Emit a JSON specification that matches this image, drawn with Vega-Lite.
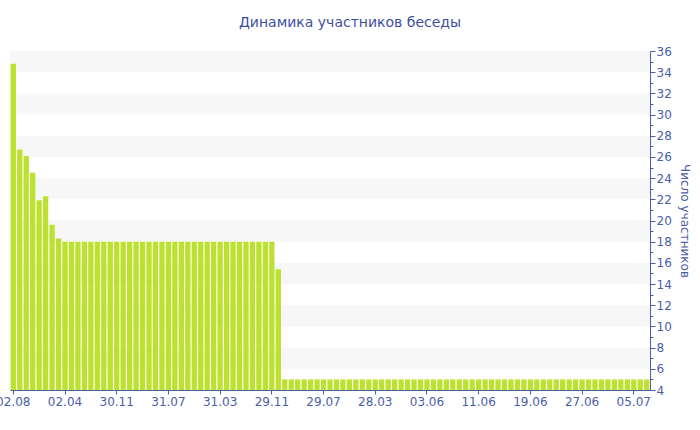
{
  "$schema": "https://vega.github.io/schema/vega-lite/v6.json",
  "width": 640,
  "height": 339,
  "autosize": {"type": "none"},
  "padding": {"left": 10, "top": 51, "right": 50, "bottom": 40},
  "background": "white",
  "title": {
    "text": "Динамика участников беседы",
    "font": "DejaVu Sans",
    "fontSize": 14,
    "fontWeight": "normal",
    "color": "#3d4f9f",
    "anchor": "middle",
    "offset": 15,
    "dx": 20
  },
  "config": {
    "view": {"stroke": null},
    "axis": {
      "labelFont": "DejaVu Sans",
      "titleFont": "DejaVu Sans",
      "labelColor": "#4b5ea8",
      "titleColor": "#4b5ea8",
      "domainColor": "#4b5ea8",
      "tickColor": "#4b5ea8",
      "labelFontSize": 12,
      "titleFontSize": 12,
      "titleFontWeight": "normal",
      "labelOverlap": false
    }
  },
  "layer": [
    {
      "data": {"values": [
        {"lo": 6, "hi": 8}, {"lo": 10, "hi": 12}, {"lo": 14, "hi": 16}, {"lo": 18, "hi": 20},
        {"lo": 22, "hi": 24}, {"lo": 26, "hi": 28}, {"lo": 30, "hi": 32}, {"lo": 34, "hi": 36}
      ]},
      "mark": {"type": "rect", "color": "#f7f7f7"},
      "encoding": {
        "y": {
          "field": "lo",
          "type": "quantitative",
          "scale": {"domain": [4, 36], "nice": false, "zero": false},
          "axis": {
            "orient": "right",
            "title": "Число участников",
            "titleAngle": 90,
            "titlePadding": 6,
            "grid": false,
            "values": [4,5,6,7,8,9,10,11,12,13,14,15,16,17,18,19,20,21,22,23,24,25,26,27,28,29,30,31,32,33,34,35,36],
            "labelExpr": "datum.value % 2 === 0 ? datum.value : ''",
            "labelOverlap": false,
            "labelBound": false,
            "tickSize": {"condition": {"test": "datum.value % 2 === 0", "value": 5}, "value": 3},
            "labelPadding": 1
          }
        },
        "y2": {"field": "hi"}
      }
    },
    {
      "data": {"values": [
        {"i": 0, "v": 34.8}, {"i": 1, "v": 26.7}, {"i": 2, "v": 26.1}, {"i": 3, "v": 24.5},
        {"i": 4, "v": 21.9}, {"i": 5, "v": 22.3}, {"i": 6, "v": 19.6}, {"i": 7, "v": 18.3},
        {"i": 8, "v": 18}, {"i": 9, "v": 18}, {"i": 10, "v": 18}, {"i": 11, "v": 18},
        {"i": 12, "v": 18}, {"i": 13, "v": 18}, {"i": 14, "v": 18}, {"i": 15, "v": 18},
        {"i": 16, "v": 18}, {"i": 17, "v": 18}, {"i": 18, "v": 18}, {"i": 19, "v": 18},
        {"i": 20, "v": 18}, {"i": 21, "v": 18}, {"i": 22, "v": 18}, {"i": 23, "v": 18},
        {"i": 24, "v": 18}, {"i": 25, "v": 18}, {"i": 26, "v": 18}, {"i": 27, "v": 18},
        {"i": 28, "v": 18}, {"i": 29, "v": 18}, {"i": 30, "v": 18}, {"i": 31, "v": 18},
        {"i": 32, "v": 18}, {"i": 33, "v": 18}, {"i": 34, "v": 18}, {"i": 35, "v": 18},
        {"i": 36, "v": 18}, {"i": 37, "v": 18}, {"i": 38, "v": 18}, {"i": 39, "v": 18},
        {"i": 40, "v": 18}, {"i": 41, "v": 15.4}, {"i": 42, "v": 5}, {"i": 43, "v": 5},
        {"i": 44, "v": 5}, {"i": 45, "v": 5}, {"i": 46, "v": 5}, {"i": 47, "v": 5},
        {"i": 48, "v": 5}, {"i": 49, "v": 5}, {"i": 50, "v": 5}, {"i": 51, "v": 5},
        {"i": 52, "v": 5}, {"i": 53, "v": 5}, {"i": 54, "v": 5}, {"i": 55, "v": 5},
        {"i": 56, "v": 5}, {"i": 57, "v": 5}, {"i": 58, "v": 5}, {"i": 59, "v": 5},
        {"i": 60, "v": 5}, {"i": 61, "v": 5}, {"i": 62, "v": 5}, {"i": 63, "v": 5},
        {"i": 64, "v": 5}, {"i": 65, "v": 5}, {"i": 66, "v": 5}, {"i": 67, "v": 5},
        {"i": 68, "v": 5}, {"i": 69, "v": 5}, {"i": 70, "v": 5}, {"i": 71, "v": 5},
        {"i": 72, "v": 5}, {"i": 73, "v": 5}, {"i": 74, "v": 5}, {"i": 75, "v": 5},
        {"i": 76, "v": 5}, {"i": 77, "v": 5}, {"i": 78, "v": 5}, {"i": 79, "v": 5},
        {"i": 80, "v": 5}, {"i": 81, "v": 5}, {"i": 82, "v": 5}, {"i": 83, "v": 5},
        {"i": 84, "v": 5}, {"i": 85, "v": 5}, {"i": 86, "v": 5}, {"i": 87, "v": 5},
        {"i": 88, "v": 5}, {"i": 89, "v": 5}, {"i": 90, "v": 5}, {"i": 91, "v": 5},
        {"i": 92, "v": 5}, {"i": 93, "v": 5}, {"i": 94, "v": 5}, {"i": 95, "v": 5},
        {"i": 96, "v": 5}, {"i": 97, "v": 5}, {"i": 98, "v": 5}
      ]},
      "mark": {"type": "bar", "color": "#bce12e"},
      "encoding": {
        "x": {
          "field": "i",
          "type": "ordinal",
          "scale": {"paddingInner": 0.18, "paddingOuter": 0.1},
          "axis": {
            "title": null,
            "values": [0, 8, 16, 24, 32, 40, 48, 56, 64, 72, 80, 88, 96],
            "labelExpr": "['02.08','02.04','30.11','31.07','31.03','29.11','29.07','28.03','03.06','11.06','19.06','27.06','05.07'][datum.value / 8]",
            "labelAngle": 0,
            "labelOverlap": false,
            "tickSize": 4,
            "labelPadding": 2
          }
        },
        "y": {
          "field": "v",
          "type": "quantitative",
          "scale": {"domain": [4, 36], "nice": false, "zero": false},
          "axis": {
            "orient": "right",
            "title": "Число участников",
            "titleAngle": 90,
            "titlePadding": 6,
            "grid": false,
            "values": [4,5,6,7,8,9,10,11,12,13,14,15,16,17,18,19,20,21,22,23,24,25,26,27,28,29,30,31,32,33,34,35,36],
            "labelExpr": "datum.value % 2 === 0 ? datum.value : ''",
            "labelOverlap": false,
            "labelBound": false,
            "tickSize": {"condition": {"test": "datum.value % 2 === 0", "value": 5}, "value": 3},
            "labelPadding": 1
          }
        },
        "y2": {"datum": 4}
      }
    }
  ]
}
